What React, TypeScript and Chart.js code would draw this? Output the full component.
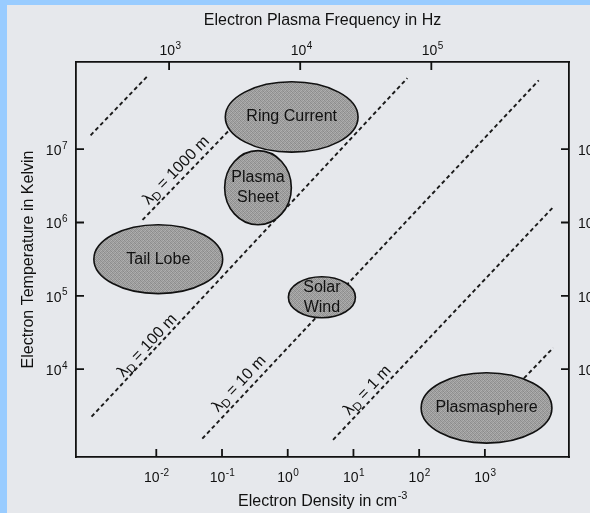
import { useEffect, useRef } from "react";
import { Chart, registerables } from "chart.js";

Chart.register(...registerables);

const FONT = "'Liberation Sans', Arial, Helvetica, sans-serif";

// Bottom axis: electron density (cm^-3)
const densityTicks = [1e-2, 1e-1, 1e0, 1e1, 1e2, 1e3];
const densityTickExps = ["-2", "-1", "0", "1", "2", "3"];
const densityMinLog = -3.21;
const densityMaxLog = 4.28;

// Top axis: electron plasma frequency (Hz)
const freqTicks = [1e3, 1e4, 1e5];
const freqTickExps = ["3", "4", "5"];
const freqMinLog = 2.29;
const freqMaxLog = 6.05;

// Left / right axis: electron temperature (K)
const tempTicks = [1e4, 1e5, 1e6, 1e7];
const tempTickExps = ["4", "5", "6", "7"];
const tempMinLog = 2.8;
const tempMaxLog = 8.19;

// Debye-length lines (log10 density, log10 temperature)
const debyeLengths = ["", "1000 m", "100 m", "10 m", "1 m", ""];
const debyeStartLogN = [-3.0, -2.21, -2.985, -1.3, 0.69, 3.3];
const debyeStartLogT = [7.19, 6.035, 3.35, 3.05, 3.035, 3.6];
const debyeEndLogN = [-2.12, -0.62, 1.82, 3.82, 4.04, 4.04];
const debyeEndLogT = [8.01, 7.51, 7.97, 7.94, 6.21, 4.29];
const debyeLabelLogN = [0, -1.71, -2.15, -0.75, 1.2, 0];
const debyeLabelLogT = [0, 6.72, 4.33, 3.81, 3.72, 0];

// Plasma regions (extents, log10)
const regionNames = ["Ring Current", "Plasma\nSheet", "Tail Lobe", "Solar\nWind", "Plasmasphere"];
const regionMinLogN = [-0.95, -0.96, -2.95, 0.01, 2.03];
const regionMaxLogN = [1.07, 0.055, -0.99, 1.03, 4.02];
const regionMinLogT = [6.96, 5.97, 5.03, 4.7, 2.99];
const regionMaxLogT = [7.92, 6.98, 5.97, 5.26, 3.95];

const X_TITLE = "Electron Density in cm";
const X_TITLE_EXP = "-3";

const SUP: Record<string, string> = { "-": "⁻", "0": "⁰", "1": "¹", "2": "²", "3": "³", "4": "⁴", "5": "⁵", "6": "⁶", "7": "⁷" };
const toLabel = (e: string) => "10" + e.split("").map((c) => SUP[c] || c).join("");

const labelFor = (ticks: number[], exps: string[]) => (value: any) => {
  const v = Number(value);
  const i = ticks.findIndex((t) => Math.abs(Math.log10(t) - Math.log10(v)) < 1e-6);
  return i >= 0 ? toLabel(exps[i]) : "";
};

function makePattern(ctx: CanvasRenderingContext2D) {
  const c = document.createElement("canvas");
  c.width = 4;
  c.height = 4;
  const p = c.getContext("2d")!;
  const shades = [0x8c, 0xa8, 0x98, 0xb2, 0xa4, 0x90, 0xac, 0x94, 0x9a, 0xb0, 0x8e, 0xa6, 0xae, 0x96, 0xa2, 0x8a];
  shades.forEach((s, i) => {
    p.fillStyle = `rgb(${s},${s},${s})`;
    p.fillRect(i % 4, Math.floor(i / 4), 1, 1);
  });
  return ctx.createPattern(c, "repeat");
}

function drawPow(ctx: CanvasRenderingContext2D, x: number, baseline: number, exp: string, align: string) {
  ctx.font = `14px ${FONT}`;
  const wB = ctx.measureText("10").width;
  ctx.font = `10px ${FONT}`;
  const wE = ctx.measureText(exp).width;
  const total = wB + wE;
  const x0 = align === "right" ? x - total : align === "center" ? x - total / 2 : x;
  ctx.textAlign = "left";
  ctx.textBaseline = "alphabetic";
  ctx.font = `14px ${FONT}`;
  ctx.fillText("10", x0, baseline);
  ctx.font = `10px ${FONT}`;
  ctx.fillText(exp, x0 + wB + 0.5, baseline - 6.5);
}

const decorPlugin = {
  id: "decor",
  beforeDraw(chart: any) {
    const ctx = chart.ctx;
    ctx.save();
    ctx.fillStyle = "#99ccff";
    ctx.fillRect(0, 0, chart.width, chart.height);
    ctx.fillStyle = "#e6e8ec";
    ctx.fillRect(7, 5, chart.width - 7, chart.height - 5);
    ctx.restore();
  },
  afterDatasetsDraw(chart: any) {
    const { ctx, chartArea, scales } = chart;
    const xs = scales.x;
    const ys = scales.y;
    ctx.save();

    // regions
    const pat = makePattern(ctx);
    regionNames.forEach((name, i) => {
      const x1 = xs.getPixelForValue(10 ** regionMinLogN[i]);
      const x2 = xs.getPixelForValue(10 ** regionMaxLogN[i]);
      const y1 = ys.getPixelForValue(10 ** regionMinLogT[i]);
      const y2 = ys.getPixelForValue(10 ** regionMaxLogT[i]);
      const cx = (x1 + x2) / 2;
      const cy = (y1 + y2) / 2;
      ctx.beginPath();
      ctx.ellipse(cx, cy, Math.abs(x2 - x1) / 2, Math.abs(y2 - y1) / 2, 0, 0, Math.PI * 2);
      ctx.fillStyle = pat || "#9c9c9c";
      ctx.fill();
      ctx.lineWidth = 1.6;
      ctx.strokeStyle = "#111";
      ctx.stroke();
      const lines = name.split("\n");
      ctx.fillStyle = "#111";
      ctx.font = `16px ${FONT}`;
      ctx.textAlign = "center";
      ctx.textBaseline = "middle";
      lines.forEach((ln, k) => {
        ctx.fillText(ln, cx, cy + (k - (lines.length - 1) / 2) * 20);
      });
    });

    // Debye labels
    debyeLengths.forEach((len, i) => {
      if (!len) return;
      const px1 = xs.getPixelForValue(10 ** debyeStartLogN[i]);
      const py1 = ys.getPixelForValue(10 ** debyeStartLogT[i]);
      const px2 = xs.getPixelForValue(10 ** debyeEndLogN[i]);
      const py2 = ys.getPixelForValue(10 ** debyeEndLogT[i]);
      const ang = Math.atan2(py2 - py1, px2 - px1);
      const cx = xs.getPixelForValue(10 ** debyeLabelLogN[i]);
      const cy = ys.getPixelForValue(10 ** debyeLabelLogT[i]);
      ctx.save();
      ctx.translate(cx, cy);
      ctx.rotate(ang);
      ctx.fillStyle = "#111";
      ctx.textAlign = "left";
      ctx.textBaseline = "alphabetic";
      const big = `16px ${FONT}`;
      const small = `12px ${FONT}`;
      const rest = " = " + len;
      ctx.font = big;
      const wL = ctx.measureText("λ").width;
      const wR = ctx.measureText(rest).width;
      ctx.font = small;
      const wD = ctx.measureText("D").width;
      const x0 = -(wL + wD + wR) / 2;
      ctx.font = big;
      ctx.fillText("λ", x0, 5.5);
      ctx.font = small;
      ctx.fillText("D", x0 + wL, 9);
      ctx.font = big;
      ctx.fillText(rest, x0 + wL + wD, 5.5);
      ctx.restore();
    });

    // inward tick marks
    ctx.strokeStyle = "#111";
    ctx.lineWidth = 1.8;
    ctx.beginPath();
    const L = 8;
    scales.x.ticks.forEach((t: any) => {
      const p = scales.x.getPixelForValue(t.value);
      ctx.moveTo(p, chartArea.bottom);
      ctx.lineTo(p, chartArea.bottom - L);
    });
    scales.xTop.ticks.forEach((t: any) => {
      const p = scales.xTop.getPixelForValue(t.value);
      ctx.moveTo(p, chartArea.top);
      ctx.lineTo(p, chartArea.top + L);
    });
    scales.y.ticks.forEach((t: any) => {
      const p = scales.y.getPixelForValue(t.value);
      ctx.moveTo(chartArea.left, p);
      ctx.lineTo(chartArea.left + L, p);
    });
    scales.yRight.ticks.forEach((t: any) => {
      const p = scales.yRight.getPixelForValue(t.value);
      ctx.moveTo(chartArea.right, p);
      ctx.lineTo(chartArea.right - L, p);
    });
    ctx.stroke();

    // tick labels (10 with raised exponent)
    ctx.fillStyle = "#111";
    scales.x.ticks.forEach((t: any, i: number) => {
      drawPow(ctx, scales.x.getPixelForValue(t.value), chartArea.bottom + 25, densityTickExps[i], "center");
    });
    scales.xTop.ticks.forEach((t: any, i: number) => {
      drawPow(ctx, scales.xTop.getPixelForValue(t.value) + 1, chartArea.top - 7, freqTickExps[i], "center");
    });
    scales.y.ticks.forEach((t: any, i: number) => {
      drawPow(ctx, chartArea.left - 9, scales.y.getPixelForValue(t.value) + 6, tempTickExps[i], "right");
    });
    scales.yRight.ticks.forEach((t: any, i: number) => {
      drawPow(ctx, chartArea.right + 9, scales.yRight.getPixelForValue(t.value) + 6, tempTickExps[i], "left");
    });

    // bottom axis title with superscript
    ctx.font = `16px ${FONT}`;
    const wT = ctx.measureText(X_TITLE).width;
    ctx.font = `11px ${FONT}`;
    const wX = ctx.measureText(X_TITLE_EXP).width;
    const tx = (chartArea.left + chartArea.right) / 2 - (wT + wX) / 2;
    ctx.textAlign = "left";
    ctx.textBaseline = "alphabetic";
    ctx.font = `16px ${FONT}`;
    ctx.fillText(X_TITLE, tx, 506);
    ctx.font = `11px ${FONT}`;
    ctx.fillText(X_TITLE_EXP, tx + wT + 0.5, 499);
    ctx.restore();
  },
};

export default function App() {
  const ref = useRef<HTMLCanvasElement>(null);

  useEffect(() => {
    if (!ref.current) return;
    Chart.defaults.font.family = FONT;
    Chart.defaults.color = "#111";

    const datasets = debyeLengths.map((len, i) => ({
      label: len || "line",
      data: [
        { x: 10 ** debyeStartLogN[i], y: 10 ** debyeStartLogT[i] },
        { x: 10 ** debyeEndLogN[i], y: 10 ** debyeEndLogT[i] },
      ],
      showLine: true,
      borderColor: "#1a1a1a",
      borderWidth: 1.9,
      borderDash: [4, 3],
      pointRadius: 0,
      fill: false,
      tension: 0,
      xAxisID: "x",
      yAxisID: "y",
    }));

    const border = { display: true, color: "#111", width: 1.8 };
    const grid = { display: false, drawTicks: false };
    const tickFont = { size: 14, family: FONT };

    const chart = new Chart(ref.current, {
      type: "scatter",
      data: { datasets },
      plugins: [decorPlugin],
      options: {
        responsive: false,
        devicePixelRatio: 1,
        animation: false,
        layout: { padding: 0 },
        plugins: { legend: { display: false }, tooltip: { enabled: false } },
        scales: {
          x: {
            type: "logarithmic",
            position: "bottom",
            min: 10 ** densityMinLog,
            max: 10 ** densityMaxLog,
            grid,
            border,
            afterBuildTicks: (s: any) => {
              s.ticks = densityTicks.map((value) => ({ value }));
            },
            afterFit: (s: any) => {
              s.height = 56;
            },
            ticks: {
              display: false,
              autoSkip: false,
              maxRotation: 0,
              minRotation: 0,
              font: tickFont,
              callback: labelFor(densityTicks, densityTickExps),
            },
            title: { display: false, text: X_TITLE + "⁻³" },
          },
          xTop: {
            type: "logarithmic",
            axis: "x",
            position: "top",
            min: 10 ** freqMinLog,
            max: 10 ** freqMaxLog,
            grid,
            border,
            afterBuildTicks: (s: any) => {
              s.ticks = freqTicks.map((value) => ({ value }));
            },
            afterFit: (s: any) => {
              s.height = 62;
            },
            ticks: {
              display: false,
              autoSkip: false,
              maxRotation: 0,
              minRotation: 0,
              font: tickFont,
              callback: labelFor(freqTicks, freqTickExps),
            },
            title: {
              display: true,
              text: "Electron Plasma Frequency in Hz",
              color: "#111",
              font: { size: 16, family: FONT },
              padding: { top: 11.4, bottom: 0 },
            },
          },
          y: {
            type: "logarithmic",
            position: "left",
            min: 10 ** tempMinLog,
            max: 10 ** tempMaxLog,
            grid,
            border,
            afterBuildTicks: (s: any) => {
              s.ticks = tempTicks.map((value) => ({ value }));
            },
            afterFit: (s: any) => {
              s.width = 76;
            },
            ticks: {
              display: false,
              autoSkip: false,
              font: tickFont,
              callback: labelFor(tempTicks, tempTickExps),
            },
            title: {
              display: true,
              text: "Electron Temperature in Kelvin",
              color: "#111",
              font: { size: 16, family: FONT },
              padding: { top: 19, bottom: 0 },
            },
          },
          yRight: {
            type: "logarithmic",
            axis: "y",
            position: "right",
            min: 10 ** tempMinLog,
            max: 10 ** tempMaxLog,
            grid,
            border,
            afterBuildTicks: (s: any) => {
              s.ticks = tempTicks.map((value) => ({ value }));
            },
            afterFit: (s: any) => {
              s.width = 21;
            },
            ticks: {
              display: false,
              autoSkip: false,
              font: tickFont,
              callback: labelFor(tempTicks, tempTickExps),
            },
          },
        },
      } as any,
    });
    return () => chart.destroy();
  }, []);

  return (
    <div style={{ position: "fixed", left: 0, top: 0, width: 590, height: 513 }}>
      <canvas ref={ref} width={590} height={513} style={{ display: "block" }} />
    </div>
  );
}
